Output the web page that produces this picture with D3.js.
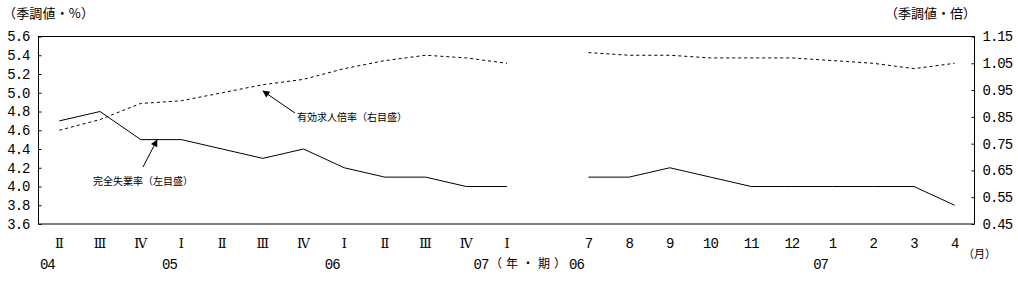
<!DOCTYPE html>
<html>
<head>
<meta charset="utf-8">
<script src="https://cdn.jsdelivr.net/npm/d3@7"></script>
<style>
  body { margin: 0; background: #fff; }
  svg { display: block; }
  .num { font-family: "Liberation Mono", monospace; font-size: 14px; letter-spacing: -1px; }
  .jp { font-family: "Noto Sans CJK JP", sans-serif; }
  .roman { font-family: "DejaVu Serif", serif; font-size: 13px; }
</style>
</head>
<body>
<div id="chart"></div>
<script>
// quarterly part 2004 II - 2007 I
var quarterLabels = ['Ⅱ', 'Ⅲ', 'Ⅳ', 'Ⅰ', 'Ⅱ', 'Ⅲ', 'Ⅳ', 'Ⅰ', 'Ⅱ', 'Ⅲ', 'Ⅳ', 'Ⅰ'];
var quarterUnemp = [4.7, 4.8, 4.5, 4.5, 4.4, 4.3, 4.4, 4.2, 4.1, 4.1, 4.0, 4.0];
var quarterRatio = [0.80, 0.84, 0.90, 0.91, 0.94, 0.97, 0.99, 1.03, 1.06, 1.08, 1.07, 1.05];

// monthly part 2006/7 - 2007/4
var monthLabels = ['7', '8', '9', '10', '11', '12', '1', '2', '3', '4'];
var monthUnemp = [4.1, 4.1, 4.2, 4.1, 4.0, 4.0, 4.0, 4.0, 4.0, 3.8];
var monthRatio = [1.09, 1.08, 1.08, 1.07, 1.07, 1.07, 1.06, 1.05, 1.03, 1.05];

// year labels: [label, slot of the first period of that year]
var yearLabels = [['04', 'q0'], ['05', 'q3'], ['06', 'q7'], ['06', 'm0'], ['07', 'm6']];

var leftTicks = [3.6, 3.8, 4.0, 4.2, 4.4, 4.6, 4.8, 5.0, 5.2, 5.4, 5.6];
var rightTicks = [0.45, 0.55, 0.65, 0.75, 0.85, 0.95, 1.05, 1.15];

var width = 1018,
    height = 285,
    plotLeft = 39,
    plotRight = 975,
    plotTop = 36.5,
    plotBottom = 224;

var svg = d3.select('#chart').append('svg')
    .attr('width', width)
    .attr('height', height);

// slots: quarters, one empty slot, months
var slots = quarterLabels.map(function(d, i) { return 'q' + i; })
    .concat(['gap'])
    .concat(monthLabels.map(function(d, i) { return 'm' + i; }));

var x = d3.scalePoint()
    .domain(slots)
    .range([plotLeft, plotRight])
    .padding(0.5);

var yLeft = d3.scaleLinear().domain([3.6, 5.6]).range([plotBottom, plotTop]);
var yRight = d3.scaleLinear().domain([0.45, 1.15]).range([plotBottom, plotTop]);

// frame
svg.append('rect')
    .attr('x', plotLeft - 0.5)
    .attr('y', plotTop)
    .attr('width', plotRight - plotLeft)
    .attr('height', plotBottom - plotTop)
    .attr('fill', 'none')
    .attr('stroke', '#000')
    .attr('stroke-width', 1);

// axes
var leftAxis = svg.append('g')
    .attr('transform', 'translate(' + (plotLeft - 0.5) + ',0)')
    .call(d3.axisLeft(yLeft).tickValues(leftTicks).tickFormat(d3.format('.1f'))
        .tickSizeInner(-3).tickSizeOuter(0).tickPadding(9));

var rightAxis = svg.append('g')
    .attr('transform', 'translate(' + (plotRight - 0.5) + ',0)')
    .call(d3.axisRight(yRight).tickValues(rightTicks).tickFormat(d3.format('.2f'))
        .tickSizeInner(-3).tickSizeOuter(0).tickPadding(8));

[leftAxis, rightAxis].forEach(function(ax) {
    ax.select('.domain').remove();
    ax.selectAll('line').attr('stroke', '#000');
    ax.selectAll('text').attr('class', 'num').attr('fill', '#000');
});

// lines
function drawLine(prefix, values, yScale, dashed) {
    var line = d3.line()
        .x(function(d, i) { return x(prefix + i); })
        .y(function(d) { return yScale(d); });

    svg.append('path')
        .datum(values)
        .attr('fill', 'none')
        .attr('stroke', '#000')
        .attr('stroke-width', 1)
        .attr('stroke-dasharray', dashed ? '3,3' : null)
        .attr('d', line);
}

drawLine('q', quarterUnemp, yLeft, false);
drawLine('m', monthUnemp, yLeft, false);
drawLine('q', quarterRatio, yRight, true);
drawLine('m', monthRatio, yRight, true);

// x labels
svg.selectAll('.qlab')
    .data(quarterLabels)
    .enter().append('text')
    .attr('class', 'roman')
    .attr('x', function(d, i) { return x('q' + i); })
    .attr('y', 248)
    .attr('text-anchor', 'middle')
    .text(function(d) { return d; });

svg.selectAll('.mlab')
    .data(monthLabels)
    .enter().append('text')
    .attr('class', 'num')
    .attr('x', function(d, i) { return x('m' + i); })
    .attr('y', 248)
    .attr('text-anchor', 'middle')
    .text(function(d) { return d; });

svg.selectAll('.ylab')
    .data(yearLabels)
    .enter().append('text')
    .attr('class', 'num')
    .attr('x', function(d) { return x(d[1]) - 12; })
    .attr('y', 269)
    .attr('text-anchor', 'middle')
    .text(function(d) { return d[0]; });

// last quarterly year sits in front of the unit label
svg.append('text').attr('class', 'num')
    .attr('x', 481).attr('y', 269).attr('text-anchor', 'middle').text('07');
svg.append('text').attr('class', 'jp')
    .attr('x', 490).attr('y', 268).attr('font-size', 12)
    .attr('textLength', 76).text('（年・期）');
svg.append('text').attr('class', 'jp')
    .attr('x', 963).attr('y', 258).attr('font-size', 11)
    .attr('textLength', 33).text('（月）');

// unit titles
svg.append('text').attr('class', 'jp')
    .attr('x', 3).attr('y', 18).attr('font-size', 13)
    .attr('textLength', 91).text('（季調値・%）');
svg.append('text').attr('class', 'jp')
    .attr('x', 976).attr('y', 18).attr('font-size', 13)
    .attr('text-anchor', 'end').text('（季調値・倍）');

// annotations
svg.append('defs').append('marker')
    .attr('id', 'arrow')
    .attr('viewBox', '0 0 10 10')
    .attr('refX', 9).attr('refY', 5)
    .attr('markerWidth', 9).attr('markerHeight', 7)
    .attr('markerUnits', 'userSpaceOnUse')
    .attr('orient', 'auto')
    .append('path')
    .attr('d', 'M0,0L10,5L0,10Z')
    .attr('fill', '#000');

function annotate(text, tx, ty, x1, y1, x2, y2) {
    svg.append('line')
        .attr('x1', x1).attr('y1', y1)
        .attr('x2', x2).attr('y2', y2)
        .attr('stroke', '#000')
        .attr('stroke-width', 1)
        .attr('marker-end', 'url(#arrow)');
    svg.append('text').attr('class', 'jp')
        .attr('x', tx).attr('y', ty)
        .attr('font-size', 10)
        .text(text);
}

annotate('有効求人倍率（右目盛）', 297, 121, 295, 113, 263, 91);
annotate('完全失業率（左目盛）', 93, 185, 143, 167, 157, 140);
</script>
</body>
</html>
